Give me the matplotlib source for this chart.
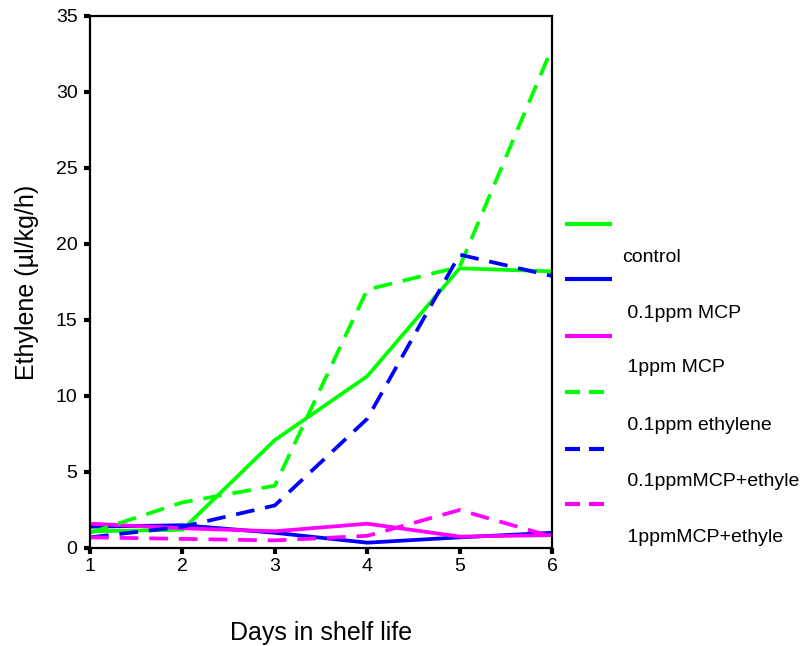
import matplotlib
matplotlib.use("Agg")
import matplotlib.pyplot as plt
from matplotlib.lines import Line2D

plt.rcParams['font.family'] = ['Liberation Sans', 'DejaVu Sans']

days = [1, 2, 3, 4, 5, 6]
control = [1.1, 1.2, 7.1, 11.3, 18.4, 18.2]
mcp_01 = [1.4, 1.5, 1.0, 0.35, 0.7, 1.0]
mcp_1 = [1.6, 1.3, 1.1, 1.6, 0.75, 0.85]
ethylene_01 = [1.0, 3.0, 4.1, 17.0, 18.5, 32.9]
mcp01_ethylene = [0.7, 1.4, 2.8, 8.5, 19.3, 17.9]
mcp1_ethylene = [0.7, 0.6, 0.5, 0.8, 2.5, 0.75]

labels = ["control", " 0.1ppm MCP", " 1ppm MCP", " 0.1ppm ethylene",
          " 0.1ppmMCP+ethyle", " 1ppmMCP+ethyle"]
series = [control, mcp_01, mcp_1, ethylene_01, mcp01_ethylene, mcp1_ethylene]
colors = ["#00ff00", "#0000ff", "#ff00ff", "#00ff00", "#0000ff", "#ff00ff"]
dashed = [False, False, False, True, True, True]

fig = plt.figure(figsize=(8.06, 6.46), dpi=100)
ax = fig.add_axes([90 / 806, 1 - 548 / 646, (552 - 90) / 806, (548 - 16) / 646])

lw = 2.7
for vals, c, d in zip(series, colors, dashed):
    line, = ax.plot(days, vals, color=c, lw=lw, solid_joinstyle='miter')
    if d:
        line.set_dashes((5.0, 2.9))

ax.set_xlim(1, 6)
ax.set_ylim(0, 35)
ax.set_xticks(days)
ax.set_yticks(range(0, 36, 5))
for s in ax.spines.values():
    s.set_linewidth(1.6)
    s.set_color('black')
ax.tick_params(axis='both', direction='out', length=4, width=3, labelsize=14,
               color='black')
ax.tick_params(axis='y', pad=5)
ax.tick_params(axis='x', pad=3)

ax.set_xlabel("Days in shelf life", fontsize=18, labelpad=33)
ax.set_ylabel("Ethylene (µl/kg/h)", fontsize=18, labelpad=12)

# Legend drawn beside the axes: handle above each label
handle_y = [224, 279, 336, 392, 449, 504]
text_y = [258, 313, 368, 426, 482, 537]
for lab, c, d, hy, ty in zip(labels, colors, dashed, handle_y, text_y):
    yf = 1 - hy / 646
    if d:
        segs = [(565, 580), (589, 604)]
    else:
        segs = [(565, 612)]
    for x0, x1 in segs:
        fig.add_artist(Line2D([x0 / 806, x1 / 806], [yf, yf], color=c,
                              lw=3, transform=fig.transFigure,
                              solid_capstyle='butt'))
    fig.text(622 / 806, 1 - ty / 646, lab, fontsize=14, va='center',
             ha='left')

fig.savefig("out.png", dpi=100)
